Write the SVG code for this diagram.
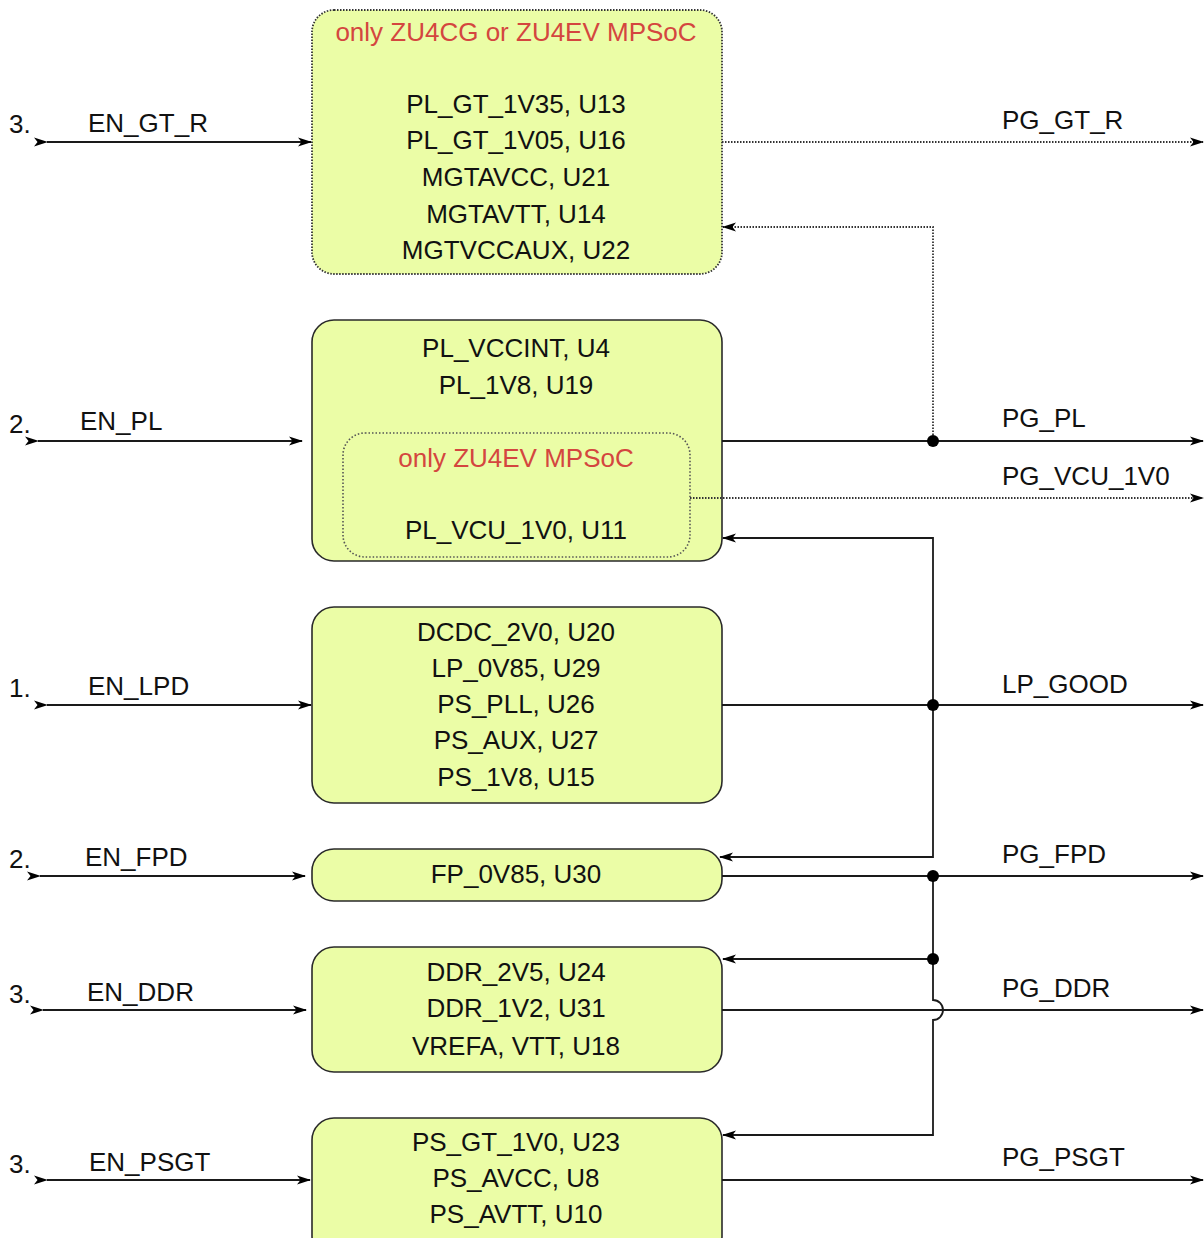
<svg xmlns="http://www.w3.org/2000/svg" width="1204" height="1238" viewBox="0 0 1204 1238">
<style>
text{font-family:"Liberation Sans",Arial,sans-serif;font-size:26px;fill:#111}
.c{text-anchor:middle}
.red{fill:#D4463F}
.box{fill:#EBFDA6;stroke:#2a2a2a;stroke-width:1.6}
.dbox{fill:#EBFDA6;stroke:#333;stroke-width:1.8;stroke-dasharray:1.5 1.5}
.inner{fill:none;stroke:#555;stroke-width:1.6;stroke-dasharray:1.5 2}
.ln{fill:none;stroke:#1a1a1a;stroke-width:1.8}
.dl{fill:none;stroke:#333;stroke-width:1.8;stroke-dasharray:1.5 1.5}
.dot{fill:#000}
</style>
<defs>
<marker id="ah" viewBox="0 0 14 10" refX="13" refY="5" markerWidth="14" markerHeight="10" markerUnits="userSpaceOnUse" orient="auto">
<path d="M0,0.5 L14,5 L0,9.5 L3.5,5 z" fill="#000"/>
</marker>
</defs>

<g id="node-gt">
<rect class="dbox" x="312" y="10" width="410" height="264" rx="22"/>
<text class="c red" x="516" y="41">only ZU4CG or ZU4EV MPSoC</text>
<text class="c" x="516" y="113">PL_GT_1V35, U13</text>
<text class="c" x="516" y="149">PL_GT_1V05, U16</text>
<text class="c" x="516" y="186">MGTAVCC, U21</text>
<text class="c" x="516" y="223">MGTAVTT, U14</text>
<text class="c" x="516" y="259">MGTVCCAUX, U22</text>
</g>

<g id="node-pl">
<rect class="box" x="312" y="320" width="410" height="241" rx="22"/>
<text class="c" x="516" y="357">PL_VCCINT, U4</text>
<text class="c" x="516" y="394">PL_1V8, U19</text>
<rect class="inner" x="343" y="433" width="347" height="124" rx="22"/>
<text class="c red" x="516" y="467">only ZU4EV MPSoC</text>
<text class="c" x="516" y="539">PL_VCU_1V0, U11</text>
</g>

<g id="node-lpd">
<rect class="box" x="312" y="607" width="410" height="196" rx="22"/>
<text class="c" x="516" y="641">DCDC_2V0, U20</text>
<text class="c" x="516" y="677">LP_0V85, U29</text>
<text class="c" x="516" y="713">PS_PLL, U26</text>
<text class="c" x="516" y="749">PS_AUX, U27</text>
<text class="c" x="516" y="786">PS_1V8, U15</text>
</g>

<g id="node-fpd">
<rect class="box" x="312" y="849" width="410" height="52" rx="22"/>
<text class="c" x="516" y="883">FP_0V85, U30</text>
</g>

<g id="node-ddr">
<rect class="box" x="312" y="947" width="410" height="125" rx="22"/>
<text class="c" x="516" y="981">DDR_2V5, U24</text>
<text class="c" x="516" y="1017">DDR_1V2, U31</text>
<text class="c" x="516" y="1055">VREFA, VTT, U18</text>
</g>

<g id="node-psgt">
<rect class="box" x="312" y="1118" width="410" height="140" rx="22"/>
<text class="c" x="516" y="1151">PS_GT_1V0, U23</text>
<text class="c" x="516" y="1187">PS_AVCC, U8</text>
<text class="c" x="516" y="1223">PS_AVTT, U10</text>
</g>

<g id="connectors">
<path class="ln" d="M47,142 H311" marker-start="url(#ah)" marker-end="url(#ah)"/>
<path class="ln" d="M38,441 H302" marker-start="url(#ah)" marker-end="url(#ah)"/>
<path class="ln" d="M47,705 H311" marker-start="url(#ah)" marker-end="url(#ah)"/>
<path class="ln" d="M40,876 H305" marker-start="url(#ah)" marker-end="url(#ah)"/>
<path class="ln" d="M43,1010 H306" marker-start="url(#ah)" marker-end="url(#ah)"/>
<path class="ln" d="M47,1180 H310" marker-start="url(#ah)" marker-end="url(#ah)"/>
<path class="dl" d="M722,142 H1203" marker-end="url(#ah)"/>
<path class="dl" d="M933,441 V227 H723" marker-end="url(#ah)"/>
<path class="ln" d="M722,441 H1203" marker-end="url(#ah)"/>
<path class="dl" d="M690,498 H1203" marker-end="url(#ah)"/>
<path class="ln" d="M933,705 V538 H723" marker-end="url(#ah)"/>
<path class="ln" d="M933,705 V857 H720" marker-end="url(#ah)"/>
<path class="ln" d="M722,705 H1203" marker-end="url(#ah)"/>
<path class="ln" d="M722,876 H1203" marker-end="url(#ah)"/>
<path class="ln" d="M933,959 H723" marker-end="url(#ah)"/>
<path class="ln" d="M933,876 V1000 A10,10 0 0 1 933,1020 V1135 H723" marker-end="url(#ah)"/>
<path class="ln" d="M722,1010 H1203" marker-end="url(#ah)"/>
<path class="ln" d="M722,1180 H1203" marker-end="url(#ah)"/>
<circle class="dot" cx="933" cy="441" r="6"/>
<circle class="dot" cx="933" cy="705" r="6"/>
<circle class="dot" cx="933" cy="876" r="6"/>
<circle class="dot" cx="933" cy="959" r="6"/>
</g>

<g id="labels">
<text x="9" y="133">3.</text>
<text x="88" y="132">EN_GT_R</text>
<text x="9" y="433">2.</text>
<text x="80" y="430">EN_PL</text>
<text x="9" y="697">1.</text>
<text x="88" y="695">EN_LPD</text>
<text x="9" y="868">2.</text>
<text x="85" y="866">EN_FPD</text>
<text x="9" y="1003">3.</text>
<text x="87" y="1001">EN_DDR</text>
<text x="9" y="1173">3.</text>
<text x="89" y="1171">EN_PSGT</text>
<text x="1002" y="129">PG_GT_R</text>
<text x="1002" y="427">PG_PL</text>
<text x="1002" y="485">PG_VCU_1V0</text>
<text x="1002" y="693">LP_GOOD</text>
<text x="1002" y="863">PG_FPD</text>
<text x="1002" y="997">PG_DDR</text>
<text x="1002" y="1166">PG_PSGT</text>
</g>
</svg>
